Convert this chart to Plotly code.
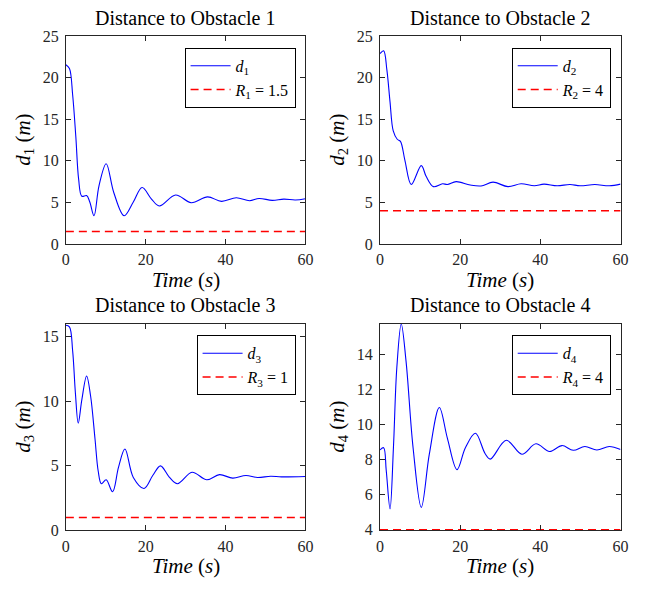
import plotly.graph_objects as go

# ---- obstacle 1 ----
t1 = [0, 0.9, 1.7, 2.5, 3.2, 4.0, 5.2, 6.0, 7.05, 8.3, 10.1, 12.0, 14.6, 16.9, 19.1, 21.4,
      23.4, 27.5, 31.4, 35.5, 39.0, 42.7, 46.0, 48.4, 51.7, 54.6, 57.5, 60]
d1 = [21.56, 21.1, 17.96, 12.9, 7.8, 5.75, 5.83, 5.05, 3.4, 7.0, 9.66, 6.2, 3.4, 5.05, 6.8, 5.44,
      4.58, 5.9, 4.97, 5.67, 5.13, 5.56, 5.2, 5.48, 5.25, 5.4, 5.3, 5.45]
R1 = 1.5

# ---- obstacle 2 ----
t2 = [0, 0.9, 1.7, 2.5, 3.3, 4.3, 5.1, 6.2, 7.8, 10.3, 11.5, 13.3, 15.6, 16.8, 19.0, 22.5, 25.2,
      28.2, 31.9, 35.2, 38.5, 40.9, 44.2, 47.4, 49.9, 53.6, 57.2, 60]
d2 = [22.9, 23.25, 21.0, 17.1, 13.6, 12.6, 12.35, 10.1, 7.16, 9.43, 8.14, 6.9, 7.24, 7.16, 7.5,
      7.09, 6.98, 7.44, 6.9, 7.24, 7.0, 7.2, 7.0, 7.16, 7.0, 7.15, 7.0, 7.2]
R2 = 4

# ---- obstacle 3 ----
t3 = [0, 0.9, 1.7, 2.4, 3.1, 4.0, 5.2, 6.2, 7.3, 8.1, 8.9, 10.1, 11.7, 13.2, 14.8, 16.9, 19.6,
      21.8, 23.7, 25.9, 27.95, 31.6, 35.3, 38.5, 41.8, 45.1, 48.0, 51.3, 54.0, 60]
d3 = [15.87, 15.75, 13.9, 10.6, 8.3, 10.1, 11.95, 10.4, 7.1, 4.6, 3.62, 3.92, 3.0, 4.9, 6.3,
      4.1, 3.25, 4.27, 5.0, 4.13, 3.62, 4.5, 3.92, 4.32, 4.05, 4.25, 4.1, 4.2, 4.15, 4.18]
R3 = 1

# ---- obstacle 4 ----
t4 = [0, 0.9, 1.55, 2.5, 3.35, 4.2, 5.3, 6.5, 8.25, 10.3, 12.3, 14.8, 16.8, 19.2, 21.3, 23.8,
      26.2, 27.5, 31.5, 35.4, 38.9, 42.3, 45.4, 48.2, 51.1, 54.1, 57.2, 60]
d4 = [8.55, 8.68, 7.39, 5.19, 8.68, 13.26, 15.73, 13.6, 8.68, 5.28, 8.31, 10.97, 9.23, 7.43, 8.68,
      9.5, 8.35, 8.03, 9.1, 8.31, 8.9, 8.46, 8.8, 8.53, 8.75, 8.55, 8.75, 8.57]
R4 = 4

series = [(t1, d1, R1, 1), (t2, d2, R2, 2), (t3, d3, R3, 3), (t4, d4, R4, 4)]
# lower limit of the 4th panel sits a hair under R4 so its dashed line is not clipped away
y_ranges = [[0, 25], [0, 25], [0, 16], [3.96, 15.75]]
y_ticks = [[0, 5, 10, 15, 20, 25], [0, 5, 10, 15, 20, 25], [0, 5, 10, 15], [4, 6, 8, 10, 12, 14]]
x_ticks = [0, 20, 40, 60]

W, H = 657, 590
# plot-area boxes in pixels: (left, right, top, bottom)
boxes = [(63, 307, 29, 243), (383, 628, 29, 243), (63, 307, 325, 538), (383, 628, 325, 538)]


def px(x):
    return x / W


def py(y):
    return 1 - y / H


FONT = "Liberation Serif"
AX = "#262626"

fig = go.Figure()
layout = dict(
    width=W, height=H, margin=dict(l=0, r=0, t=0, b=0),
    paper_bgcolor="white", plot_bgcolor="white",
    font=dict(family=FONT, color="black"),
    annotations=[],
)

for i, (t, d, R, k) in enumerate(series):
    xa = "x" if k == 1 else f"x{k}"
    ya = "y" if k == 1 else f"y{k}"
    lg = "legend" if k == 1 else f"legend{k}"
    fig.add_trace(go.Scatter(
        x=t, y=d, mode="lines", xaxis=xa, yaxis=ya, legend=lg,
        line=dict(color="#0000ff", width=1.1, shape="spline", smoothing=1.0),
        name=f"<i>d</i><sub>{k}</sub>",
    ))
    fig.add_trace(go.Scatter(
        x=[0, 60], y=[R, R], mode="lines", xaxis=xa, yaxis=ya, legend=lg,
        line=dict(color="#ff0000", width=1.4, dash="8px,5px"),
        name=f"<i>R</i><sub>{k}</sub> = {R}",
    ))

    L, Rr, T, B = boxes[i]
    axis_common = dict(
        showline=True, linecolor=AX, linewidth=1, mirror="allticks",
        ticks="inside", ticklen=5, tickcolor=AX, tickwidth=1,
        showgrid=False, zeroline=False,
        tickfont=dict(family=FONT, size=16, color=AX),
    )
    layout["xaxis" if k == 1 else f"xaxis{k}"] = dict(
        axis_common, domain=[px(L), px(Rr)], range=[0, 60], tickvals=x_ticks,
        anchor=ya, ticklabelstandoff=1,
    )
    layout["yaxis" if k == 1 else f"yaxis{k}"] = dict(
        axis_common, domain=[py(B), py(T)], range=y_ranges[i], tickvals=y_ticks[i],
        anchor=xa, ticklabelstandoff=3,
    )
    layout[lg] = dict(
        x=px(Rr - 10), y=py(T + 12), xanchor="right", yanchor="top",
        xref="paper", yref="paper",
        bgcolor="white", bordercolor="black", borderwidth=1,
        font=dict(family=FONT, size=16, color="black"),
        tracegroupgap=0, itemwidth=40,
    )
    cx = px((L + Rr) / 2)
    # subplot title
    layout["annotations"].append(dict(
        text=f"Distance to Obstacle {k}", x=cx, y=py(T - 19),
        xref="paper", yref="paper", showarrow=False, xanchor="center", yanchor="middle",
        font=dict(family=FONT, size=20, color="black"),
    ))
    # x-axis title
    layout["annotations"].append(dict(
        text="<i>Time</i> (<i>s</i>)", x=cx, y=py(B + 37),
        xref="paper", yref="paper", showarrow=False, xanchor="center", yanchor="middle",
        font=dict(family=FONT, size=21, color="black"),
    ))
    # y-axis title
    layout["annotations"].append(dict(
        text=f"<i>d</i><sub>{k}</sub> (<i>m</i>)", x=px(L - 43), y=py((T + B) / 2),
        xref="paper", yref="paper", showarrow=False, xanchor="center", yanchor="middle",
        textangle=-90, font=dict(family=FONT, size=21, color="black"),
    ))

fig.update_layout(**layout)
fig.write_html("out.html")
